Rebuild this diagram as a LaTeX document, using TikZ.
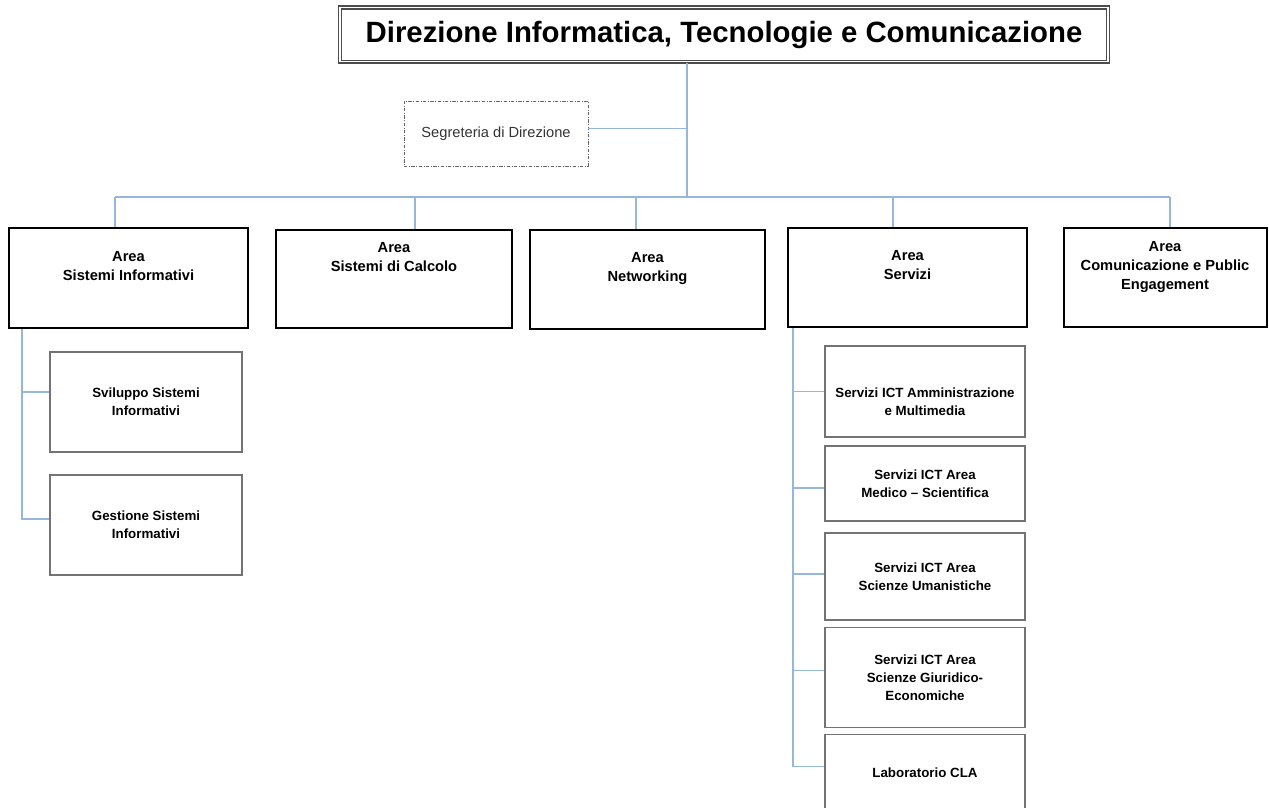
\documentclass[tikz,border=0pt]{standalone}
\usepackage{fontspec}
\setmainfont{Liberation Sans}
\usetikzlibrary{positioning}
\definecolor{linkblue}{RGB}{150,182,220}
\tikzstyle{title} = [rectangle, 
minimum width=576pt, 
minimum height=41pt,
text centered, 
draw=black!70, 
double=white, 
double distance=0.9pt, 
line width=1.3pt,
font=\fontsize{22}{26}\selectfont\bfseries]
\tikzstyle{staff} = [rectangle, 
minimum width=138pt, 
minimum height=48.75pt,
text centered, 
draw=black!60, 
dash pattern=on 2.5pt off 1.2pt on 0.6pt off 1.2pt, 
line width=0.6pt,
text=black!80,
font=\fontsize{11}{13}\selectfont]
\tikzstyle{area} = [rectangle, 
minimum height=74.25pt,
align=center, 
inner sep=0pt,
draw=black, 
line width=1.5pt,
font=\fontsize{11}{14.25}\selectfont\bfseries]
\tikzstyle{unit} = [rectangle, 
minimum width=150pt,
align=center, 
inner sep=0pt,
draw=black!55, 
line width=0.9pt,
font=\fontsize{10}{13.5}\selectfont\bfseries]
\tikzstyle{link} = [draw=linkblue, line width=0.9pt]

\begin{document}
\begin{tikzpicture}[x=0.75pt, y=-0.75pt]
		\useasboundingbox (0,0) rectangle (1269,807);
		\node (dir) [title] at (724,34.5) {Direzione Informatica, Tecnologie e Comunicazione};
		\node (segr) [staff] at (496,133.5) {Segreteria di Direzione};
		\node (asi) [area, minimum width=179.25pt, minimum height=75pt] at (128.5,278) {Area\\Sistemi Informativi\\\strut};
		\node (asc) [area, minimum width=177pt, minimum height=73.5pt] at (394,279) {Area\\Sistemi di Calcolo\\\strut\\\strut};
		\node (anet) [area, minimum width=176.25pt] at (647.5,279.5) {Area\\Networking\\\strut};
		\node (aserv) [area, minimum width=179.25pt] at (907.5,277.5) {Area\\Servizi\\\strut};
		\node (acom) [area, minimum width=152.25pt] at (1165,277.5) {Area\\Comunicazione e Public\\Engagement\\\strut};
	
		\node (sv) [unit, minimum width=144pt, minimum height=75pt] at (146,402) {Sviluppo Sistemi\\Informativi};
		\node (ge) [unit, minimum width=144pt, minimum height=75pt, below of=sv, node distance=92.25pt] {Gestione Sistemi\\Informativi};
	
		\node (s1) [unit, minimum height=68.25pt] at (925,391.5) {\strut\\Servizi ICT Amministrazione\\e Multimedia};
		\node (s2) [unit, minimum height=56.25pt, below of=s1, node distance=69pt] {Servizi ICT Area\\Medico -- Scientifica};
		\node (s3) [unit, minimum height=65.25pt, below of=s2, node distance=69.75pt] {Servizi ICT Area\\Scienze Umanistiche};
		\node (s4) [unit, minimum height=75pt, below of=s3, node distance=76pt] {Servizi ICT Area\\Scienze Giuridico-\\Economiche};
		\node (s5) [unit, minimum height=57pt, below of=s4, node distance=71.25pt] {Laboratorio CLA};
	
		\coordinate (hub) at (687,197);
		\draw [link] (dir.south -| hub) -- (hub);
		\draw [link] ([yshift=4pt]segr.east) -- ([yshift=4pt]segr.east -| hub);
		\draw [link] (115,197) coordinate (bl) -- (1170,197) coordinate (br);
		\foreach \x/\n in {115/asi, 415/asc, 636/anet, 893/aserv, 1170/acom}{
			\coordinate (drop) at (\x,197);
			\draw [link] (drop) -- (drop |- \n.north);
		}
	
		\coordinate (lspine) at ([xshift=10.5pt]asi.south west);
		\draw [link] (lspine) |- ([yshift=7.5pt]sv.west);
		\draw [link] (lspine) |- ([yshift=4.5pt]ge.west);
	
		\coordinate (rspine) at ([xshift=4.5pt]aserv.south west);
		\draw [link] (rspine) |- (s1.west);
		\draw [link] (rspine) |- ([yshift=-3.4pt]s2.west);
		\draw [link] (rspine) |- ([yshift=1.9pt]s3.west);
		\draw [link] (rspine) |- ([yshift=5.25pt]s4.west);
		\draw [link] (rspine) |- ([yshift=4.5pt]s5.west);
	\end{tikzpicture}
\end{document}
